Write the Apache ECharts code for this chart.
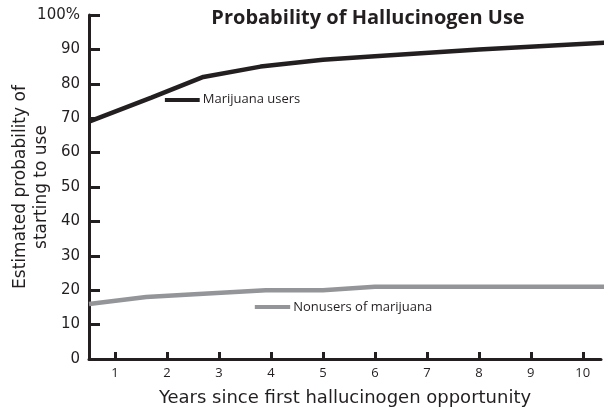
<!DOCTYPE html>
<html>
<head>
<meta charset="utf-8">
<script src="https://cdn.jsdelivr.net/npm/echarts@6/dist/echarts.min.js"></script>
<style>html,body{margin:0;padding:0;background:#fff}#c{width:616px;height:407px}</style>
</head>
<body>
<div id="c"></div>
<script>
var titleText = 'Probability of Hallucinogen Use';
var xTickValues = [1, 2, 3, 4, 5, 6, 7, 8, 9, 10];
var yTickLabels = ['0', '10', '20', '30', '40', '50', '60', '70', '80', '90', '100%'];
var marijuanaYears = [0.5, 1.7, 2.7, 3.8, 5, 6, 8, 10.5];
var marijuanaValues = [69, 76, 82, 85, 87, 88, 90, 92];
var nonuserYears = [0.5, 1.6, 2.7, 3.9, 5, 6, 10.5];
var nonuserValues = [16, 18, 19, 20, 20, 21, 21];
var marijuanaLabel = 'Marijuana users';
var nonuserLabel = 'Nonusers of marijuana';
// annotation segments [x1, x2, y] in data units
var marijuanaKey = [1.96, 2.63, 75.5];
var nonuserKey = [3.69, 4.37, 15.1];

function pairs(xs, ys) { return xs.map(function (x, i) { return [x, ys[i]]; }); }

var dark = '#231f20', grey = '#939598';
var font = 'Open Sans', wide = 'DejaVu Sans';
var chart = echarts.init(document.getElementById('c'), null, {renderer: 'canvas'});
function keyLine(k, name, color) {
  return {
    silent: true, symbol: 'none',
    lineStyle: {color: color, width: 4, type: 'solid'},
    label: {show: true, position: 'end', formatter: name, color: dark, fontFamily: font, fontSize: 13, distance: 3},
    data: [[{coord: [k[0], k[2]]}, {coord: [k[1], k[2]]}]]
  };
}
chart.setOption({
  animation: false,
  title: {
    text: titleText, left: 363, top: 3, textAlign: 'center',
    textStyle: {fontFamily: font, fontWeight: 'bold', fontSize: 20, color: dark}
  },
  grid: {left: 89, right: 15, top: 15, bottom: 48, outerBoundsMode: 'none', containLabel: false},
  xAxis: {
    type: 'value', min: 0.5, max: 10.35,
    name: 'Years since first hallucinogen opportunity',
    nameLocation: 'middle', nameGap: 30, nameMoveOverlap: false,
    nameTextStyle: {fontFamily: wide, fontSize: 18, color: dark},
    axisLine: {show: true, lineStyle: {color: dark, width: 3}},
    axisTick: {show: true, inside: true, length: 7, lineStyle: {color: dark, width: 3}, customValues: xTickValues},
    axisLabel: {customValues: xTickValues, fontFamily: font, fontSize: 13, color: dark, margin: 8},
    splitLine: {show: false}
  },
  yAxis: {
    type: 'value', min: 0, max: 100, interval: 10,
    name: 'Estimated probability of\nstarting to use',
    nameLocation: 'middle', nameGap: 37, nameRotate: 90, nameMoveOverlap: false,
    nameTextStyle: {fontFamily: wide, fontSize: 17, color: dark, lineHeight: 21},
    axisLine: {show: true, lineStyle: {color: dark, width: 3}},
    axisTick: {show: true, inside: true, length: 11, lineStyle: {color: dark, width: 3}},
    axisLabel: {
      fontFamily: wide, fontSize: 15, color: dark, margin: 9,
      formatter: function (v) { return yTickLabels[Math.round(v / 10)]; }
    },
    splitLine: {show: false}
  },
  series: [
    {
      type: 'line', data: pairs(marijuanaYears, marijuanaValues), clip: false,
      symbol: 'none', lineStyle: {color: dark, width: 4.5},
      markLine: keyLine(marijuanaKey, marijuanaLabel, dark)
    },
    {
      type: 'line', data: pairs(nonuserYears, nonuserValues), clip: false,
      symbol: 'none', lineStyle: {color: grey, width: 4.5},
      markLine: keyLine(nonuserKey, nonuserLabel, grey)
    }
  ]
});
</script>
</body>
</html>
